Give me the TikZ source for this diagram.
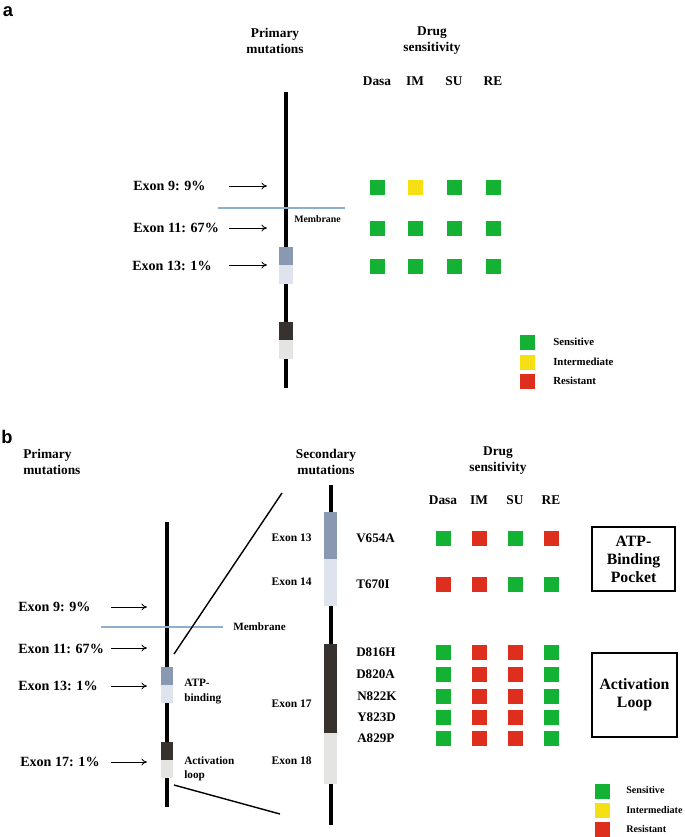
\documentclass[tikz,border=0pt]{standalone}
\usepackage{fontspec}
\setmainfont{Liberation Serif}
\newfontfamily\panelfont{Liberation Sans}
\usetikzlibrary{arrows.meta}

\definecolor{sensgreen}{RGB}{20,178,52}
\definecolor{intyellow}{RGB}{245,224,22}
\definecolor{resred}{RGB}{222,46,30}
\definecolor{atpblue}{RGB}{138,153,178}
\definecolor{atplight}{RGB}{222,227,238}
\definecolor{loopdark}{RGB}{56,50,47}
\definecolor{looplight}{RGB}{228,228,226}
\definecolor{membranecol}{RGB}{140,175,205}

\tikzset{
  panellbl/.style={font=\panelfont\fontsize{13}{15}\selectfont\bfseries, inner sep=0pt},
  hdr/.style={font=\fontsize{9.5}{11.3}\selectfont\bfseries, align=center, inner sep=0pt},
  exonlbl/.style={font=\fontsize{10}{12}\selectfont\bfseries, inner sep=0pt, anchor=west},
  mutlbl/.style={font=\fontsize{9.3}{11}\selectfont\bfseries, inner sep=0pt, anchor=west},
  smalltxt/.style={font=\fontsize{7.7}{9.4}\selectfont\bfseries, inner sep=0pt, align=left},
  sens/.style={fill=sensgreen, minimum size=0.375cm, inner sep=0pt},
  inter/.style={fill=intyellow, minimum size=0.375cm, inner sep=0pt},
  resis/.style={fill=resred, minimum size=0.375cm, inner sep=0pt},
  groupbox/.style={draw, line width=0.8pt, font=\fontsize{11.2}{12.8}\selectfont\bfseries, align=center, inner sep=0pt},
  pointer/.style={-{To[length=4pt,width=5pt]}, line width=0.6pt},
  chain/.style={line width=3.2pt},
  membrane/.style={membranecol, line width=0.8pt},
  zoomline/.style={line width=1pt}
}

\begin{document}
\begin{tikzpicture}[x=0.025cm,y=-0.025cm]
    \useasboundingbox (0,0) rectangle (685,837);

    % ---------- panel a ----------
    \node[panellbl] (pa) at (8,12) {a};
    \node[hdr] (aprim) at (275,41) {Primary\\mutations};
    \node[hdr] (adrug) at (432,41) {Drug\\sensitivity};

    % receptor chain
    \draw[chain] (286,92) -- (286,388);
    \fill[atpblue] (279,247) rectangle (293,265);
    \fill[atplight] (279,265) rectangle (293,284);
    \fill[loopdark] (279,322) rectangle (293,340);
    \fill[looplight] (279,340) rectangle (293,359);
    \draw[membrane] (218,208) -- (345,208);
    \node[smalltxt, anchor=west, font=\fontsize{7}{8}\selectfont\bfseries] (amem) at (294,219) {Membrane};

    % primary mutations
    \node[exonlbl] (a9) at (133,186) {Exon 9: 9\%};
    \node[exonlbl] (a11) at (133,228) {Exon 11: 67\%};
    \node[exonlbl] (a13) at (132,266) {Exon 13: 1\%};
    \coordinate (a9s) at (229,186);  \coordinate (a9e) at (267,186);
    \coordinate (a11s) at (229,228); \coordinate (a11e) at (267,228);
    \coordinate (a13s) at (229,265); \coordinate (a13e) at (267,265);
    \draw[pointer] (a9s) -- (a9e);
    \draw[pointer] (a11s) -- (a11e);
    \draw[pointer] (a13s) -- (a13e);

    % drug columns
    \node[hdr] (adasa) at (377,81) {Dasa};
    \node[hdr] (aim) at (415,81) {IM};
    \node[hdr] (asu) at (454,81) {SU};
    \node[hdr] (are) at (493,81) {RE};
    \node[sens] (a-1-1) at (377,187) {}; \node[inter] (a-1-2) at (415,187) {}; \node[sens] (a-1-3) at (454,187) {}; \node[sens] (a-1-4) at (493,187) {};
    \node[sens] (a-2-1) at (377,228) {}; \node[sens] (a-2-2) at (415,228) {}; \node[sens] (a-2-3) at (454,228) {}; \node[sens] (a-2-4) at (493,228) {};
    \node[sens] (a-3-1) at (377,266) {}; \node[sens] (a-3-2) at (415,266) {}; \node[sens] (a-3-3) at (454,266) {}; \node[sens] (a-3-4) at (493,266) {};

    % legend a
    \node[sens] (aleg1) at (527,342) {};
    \node[inter] (aleg2) at (527,362) {};
    \node[resis] (aleg3) at (527,381) {};
    \node[smalltxt, anchor=west] (alegt1) at (553,342) {Sensitive};
    \node[smalltxt, anchor=west] (alegt2) at (553,362) {Intermediate};
    \node[smalltxt, anchor=west] (alegt3) at (553,381) {Resistant};

    % ---------- panel b ----------
    \node[panellbl] (pb) at (7,437) {b};
    \node[hdr, align=left, anchor=west] (bprim) at (23,462) {Primary\\mutations};
    \node[hdr] (bsec) at (326,462) {Secondary\\mutations};
    \node[hdr] (bdrug) at (498,461) {Drug\\sensitivity};

    % full receptor
    \draw[chain] (167,522) -- (167,807);
    \fill[atpblue] (161,667) rectangle (173,685);
    \fill[atplight] (161,685) rectangle (173,703);
    \fill[loopdark] (161,742) rectangle (173,760);
    \fill[looplight] (161,760) rectangle (173,778);
    \draw[membrane] (101,627) -- (223,627);
    \node[smalltxt, anchor=west, font=\fontsize{7.9}{9}\selectfont\bfseries] (bmem) at (233,627) {Membrane};
    \node[smalltxt, anchor=north west, font=\fontsize{8}{10.5}\selectfont\bfseries] (batp) at (184,679) {ATP-\\binding};
    \node[smalltxt, anchor=north west, font=\fontsize{8}{10.5}\selectfont\bfseries] (bloop) at (184,756) {Activation\\loop};

    \node[exonlbl] (b9) at (18,607) {Exon 9: 9\%};
    \node[exonlbl] (b11) at (18,649) {Exon 11: 67\%};
    \node[exonlbl] (b13) at (18,686) {Exon 13: 1\%};
    \node[exonlbl] (b17) at (20,762) {Exon 17: 1\%};
    \coordinate (b9s) at (111,607);  \coordinate (b9e) at (147,607);
    \coordinate (b11s) at (111,648); \coordinate (b11e) at (147,648);
    \coordinate (b13s) at (111,686); \coordinate (b13e) at (147,686);
    \coordinate (b17s) at (111,762); \coordinate (b17e) at (147,762);
    \draw[pointer] (b9s) -- (b9e);
    \draw[pointer] (b11s) -- (b11e);
    \draw[pointer] (b13s) -- (b13e);
    \draw[pointer] (b17s) -- (b17e);

    % zoomed kinase part
    \draw[chain] (331,485) -- (331,825);
    \fill[atpblue] (324,512) rectangle (337,559);
    \fill[atplight] (324,559) rectangle (337,606);
    \fill[loopdark] (324,644) rectangle (337,733);
    \fill[looplight] (324,733) rectangle (337,784);
    \coordinate (zt1) at (174,654); \coordinate (zt2) at (282,493);
    \coordinate (zb1) at (174,785); \coordinate (zb2) at (280,814);
    \draw[zoomline] (zt1) -- (zt2);
    \draw[zoomline] (zb1) -- (zb2);

    \node[smalltxt, anchor=east, font=\fontsize{8.2}{10}\selectfont\bfseries] (bx13) at (312,538) {Exon 13};
    \node[smalltxt, anchor=east, font=\fontsize{8.2}{10}\selectfont\bfseries] (bx14) at (312,582) {Exon 14};
    \node[smalltxt, anchor=east, font=\fontsize{8.2}{10}\selectfont\bfseries] (bx17) at (312,704) {Exon 17};
    \node[smalltxt, anchor=east, font=\fontsize{8.2}{10}\selectfont\bfseries] (bx18) at (312,761) {Exon 18};

    % secondary mutations
    \node[mutlbl] (m1) at (356,538) {V654A};
    \node[mutlbl] (m2) at (356,584) {T670I};
    \node[mutlbl] (m3) at (356,652) {D816H};
    \node[mutlbl] (m4) at (356,674) {D820A};
    \node[mutlbl] (m5) at (357,696) {N822K};
    \node[mutlbl] (m6) at (357,717) {Y823D};
    \node[mutlbl] (m7) at (357,738) {A829P};

    % drug columns
    \node[hdr] (bdasa) at (443,500) {Dasa};
    \node[hdr] (bim) at (479,500) {IM};
    \node[hdr] (bsu) at (515,500) {SU};
    \node[hdr] (bre) at (551,500) {RE};
    \node[sens] (b-1-1) at (443,538) {}; \node[resis] (b-1-2) at (479,538) {}; \node[sens] (b-1-3) at (515,538) {}; \node[resis] (b-1-4) at (551,538) {};
    \node[resis] (b-2-1) at (443,584) {}; \node[resis] (b-2-2) at (479,584) {}; \node[sens] (b-2-3) at (515,584) {}; \node[sens] (b-2-4) at (551,584) {};
    \node[sens] (b-3-1) at (443,652) {}; \node[resis] (b-3-2) at (479,652) {}; \node[resis] (b-3-3) at (515,652) {}; \node[sens] (b-3-4) at (551,652) {};
    \node[sens] (b-4-1) at (443,674) {}; \node[resis] (b-4-2) at (479,674) {}; \node[resis] (b-4-3) at (515,674) {}; \node[sens] (b-4-4) at (551,674) {};
    \node[sens] (b-5-1) at (443,696) {}; \node[resis] (b-5-2) at (479,696) {}; \node[resis] (b-5-3) at (515,696) {}; \node[sens] (b-5-4) at (551,696) {};
    \node[sens] (b-6-1) at (443,717) {}; \node[resis] (b-6-2) at (479,717) {}; \node[resis] (b-6-3) at (515,717) {}; \node[sens] (b-6-4) at (551,717) {};
    \node[sens] (b-7-1) at (443,738) {}; \node[resis] (b-7-2) at (479,738) {}; \node[resis] (b-7-3) at (515,738) {}; \node[sens] (b-7-4) at (551,738) {};

    % domain boxes
    \node[groupbox, minimum width=2.075cm, minimum height=1.6cm] (atpbox) at (633.5,559) {ATP-\\Binding\\Pocket};
    \node[groupbox, minimum width=2.125cm, minimum height=2.1cm] (loopbox) at (634.5,695) {Activation\\Loop};

    % legend b
    \node[sens] (bleg1) at (602,791) {};
    \node[inter] (bleg2) at (602,810) {};
    \node[resis] (bleg3) at (602,829) {};
    \node[smalltxt, anchor=west, font=\fontsize{7.2}{9}\selectfont\bfseries] (blegt1) at (626,790) {Sensitive};
    \node[smalltxt, anchor=west, font=\fontsize{7.2}{9}\selectfont\bfseries] (blegt2) at (626,810) {Intermediate};
    \node[smalltxt, anchor=west, font=\fontsize{7.2}{9}\selectfont\bfseries] (blegt3) at (626,829) {Resistant};
\end{tikzpicture}
\end{document}
